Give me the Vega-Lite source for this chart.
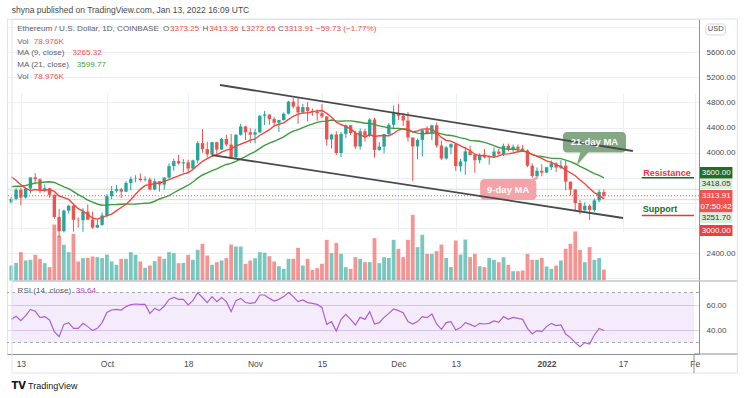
{
"$schema": "https://vega.github.io/schema/vega-lite/v6.json",
"width": 692, "height": 335,
"autosize": {"type": "none"},
"padding": {"left": 7, "top": 19, "right": 51, "bottom": 44},
"background": "white",
"config": {"view": {"stroke": "#e0e3eb"}, "font": "Liberation Sans", "text": {"font": "Liberation Sans"}},
"datasets": {"ohlc": [
{"d":"2021-09-11","o":3210,"h":3295,"l":3190,"c":3266,"v":108,"m9":3616,"m21":3458,"r":48.5},
{"d":"2021-09-12","o":3266,"h":3438,"l":3244,"c":3410,"v":127,"m9":3557,"m21":3466,"r":51},
{"d":"2021-09-13","o":3410,"h":3445,"l":3162,"c":3286,"v":204,"m9":3490,"m21":3465,"r":47.5},
{"d":"2021-09-14","o":3286,"h":3445,"l":3268,"c":3429,"v":144,"m9":3432,"m21":3477,"r":51.5},
{"d":"2021-09-15","o":3429,"h":3610,"l":3352,"c":3607,"v":149,"m9":3397,"m21":3495,"r":56.5},
{"d":"2021-09-16","o":3607,"h":3676,"l":3515,"c":3577,"v":185,"m9":3413,"m21":3518,"r":55},
{"d":"2021-09-17","o":3577,"h":3590,"l":3357,"c":3398,"v":156,"m9":3401,"m21":3524,"r":50},
{"d":"2021-09-18","o":3398,"h":3495,"l":3370,"c":3433,"v":125,"m9":3402,"m21":3533,"r":50.7},
{"d":"2021-09-19","o":3433,"h":3443,"l":3286,"c":3330,"v":96,"m9":3415,"m21":3538,"r":48},
{"d":"2021-09-20","o":3330,"h":3335,"l":2945,"c":2977,"v":403,"m9":3383,"m21":3526,"r":38.7},
{"d":"2021-09-21","o":2977,"h":3105,"l":2651,"c":2749,"v":324,"m9":3310,"m21":3493,"r":34.7},
{"d":"2021-09-22","o":2749,"h":3095,"l":2730,"c":3077,"v":257,"m9":3286,"m21":3457,"r":44.5},
{"d":"2021-09-23","o":3077,"h":3170,"l":3030,"c":3156,"v":204,"m9":3256,"m21":3427,"r":45.9},
{"d":"2021-09-24","o":3156,"h":3172,"l":2745,"c":2931,"v":336,"m9":3181,"m21":3379,"r":41.3},
{"d":"2021-09-25","o":2931,"h":2972,"l":2805,"c":2925,"v":137,"m9":3108,"m21":3333,"r":41.3},
{"d":"2021-09-26","o":2925,"h":3115,"l":2742,"c":3062,"v":161,"m9":3071,"m21":3291,"r":45.3},
{"d":"2021-09-27","o":3062,"h":3175,"l":2925,"c":2934,"v":163,"m9":3016,"m21":3244,"r":42.7},
{"d":"2021-09-28","o":2934,"h":3062,"l":2789,"c":2807,"v":173,"m9":2958,"m21":3214,"r":39.5},
{"d":"2021-09-29","o":2807,"h":2935,"l":2800,"c":2850,"v":168,"m9":2943,"m21":3183,"r":41.3},
{"d":"2021-09-30","o":2850,"h":3050,"l":2836,"c":3001,"v":161,"m9":2971,"m21":3163,"r":45.9},
{"d":"2021-10-01","o":3001,"h":3340,"l":2970,"c":3308,"v":187,"m9":2997,"m21":3167,"r":54},
{"d":"2021-10-02","o":3308,"h":3470,"l":3262,"c":3391,"v":137,"m9":3023,"m21":3173,"r":56},
{"d":"2021-10-03","o":3391,"h":3487,"l":3366,"c":3418,"v":113,"m9":3077,"m21":3174,"r":56.5},
{"d":"2021-10-04","o":3418,"h":3440,"l":3280,"c":3380,"v":156,"m9":3128,"m21":3178,"r":56},
{"d":"2021-10-05","o":3380,"h":3545,"l":3375,"c":3518,"v":156,"m9":3179,"m21":3182,"r":58.7},
{"d":"2021-10-06","o":3518,"h":3620,"l":3400,"c":3580,"v":204,"m9":3250,"m21":3181,"r":60.3},
{"d":"2021-10-07","o":3580,"h":3640,"l":3530,"c":3587,"v":185,"m9":3337,"m21":3182,"r":60.8},
{"d":"2021-10-08","o":3587,"h":3672,"l":3540,"c":3563,"v":137,"m9":3416,"m21":3189,"r":60.5},
{"d":"2021-10-09","o":3563,"h":3623,"l":3542,"c":3575,"v":91,"m9":3480,"m21":3196,"r":60.5},
{"d":"2021-10-10","o":3575,"h":3605,"l":3400,"c":3415,"v":108,"m9":3492,"m21":3200,"r":53.3},
{"d":"2021-10-11","o":3415,"h":3590,"l":3400,"c":3545,"v":139,"m9":3509,"m21":3227,"r":57.3},
{"d":"2021-10-12","o":3545,"h":3548,"l":3380,"c":3492,"v":173,"m9":3517,"m21":3263,"r":55.5},
{"d":"2021-10-13","o":3492,"h":3612,"l":3410,"c":3604,"v":156,"m9":3542,"m21":3288,"r":59.2},
{"d":"2021-10-14","o":3604,"h":3830,"l":3586,"c":3787,"v":204,"m9":3572,"m21":3318,"r":64.5},
{"d":"2021-10-15","o":3787,"h":3904,"l":3712,"c":3865,"v":197,"m9":3604,"m21":3362,"r":66},
{"d":"2021-10-16","o":3865,"h":3965,"l":3810,"c":3830,"v":125,"m9":3631,"m21":3405,"r":64.5},
{"d":"2021-10-17","o":3830,"h":3898,"l":3685,"c":3847,"v":127,"m9":3662,"m21":3443,"r":64.5},
{"d":"2021-10-18","o":3847,"h":3890,"l":3685,"c":3748,"v":185,"m9":3681,"m21":3482,"r":60},
{"d":"2021-10-19","o":3748,"h":3890,"l":3732,"c":3878,"v":149,"m9":3733,"m21":3533,"r":63.5},
{"d":"2021-10-20","o":3878,"h":4185,"l":3832,"c":4153,"v":221,"m9":3800,"m21":3595,"r":69.9},
{"d":"2021-10-21","o":4153,"h":4378,"l":4000,"c":4058,"v":264,"m9":3863,"m21":3645,"r":66},
{"d":"2021-10-22","o":4058,"h":4172,"l":3923,"c":3973,"v":180,"m9":3904,"m21":3677,"r":61.9},
{"d":"2021-10-23","o":3973,"h":4175,"l":3945,"c":4167,"v":113,"m9":3947,"m21":3714,"r":66.7},
{"d":"2021-10-24","o":4167,"h":4172,"l":3948,"c":4050,"v":132,"m9":3967,"m21":3744,"r":62.7},
{"d":"2021-10-25","o":4050,"h":4238,"l":4040,"c":4219,"v":144,"m9":4010,"m21":3784,"r":66},
{"d":"2021-10-26","o":4219,"h":4285,"l":4100,"c":4130,"v":161,"m9":4042,"m21":3813,"r":62.7},
{"d":"2021-10-27","o":4130,"h":4300,"l":3900,"c":3930,"v":259,"m9":4062,"m21":3829,"r":54.7},
{"d":"2021-10-28","o":3930,"h":4295,"l":3915,"c":4285,"v":245,"m9":4107,"m21":3863,"r":63.5},
{"d":"2021-10-29","o":4285,"h":4460,"l":4270,"c":4417,"v":245,"m9":4137,"m21":3903,"r":65.3},
{"d":"2021-10-30","o":4417,"h":4426,"l":4200,"c":4325,"v":120,"m9":4166,"m21":3939,"r":62},
{"d":"2021-10-31","o":4325,"h":4390,"l":4150,"c":4288,"v":144,"m9":4201,"m21":3981,"r":61.3},
{"d":"2021-11-01","o":4288,"h":4380,"l":4150,"c":4323,"v":161,"m9":4219,"m21":4018,"r":61.9},
{"d":"2021-11-02","o":4323,"h":4600,"l":4320,"c":4587,"v":204,"m9":4278,"m21":4070,"r":68},
{"d":"2021-11-03","o":4587,"h":4665,"l":4440,"c":4607,"v":199,"m9":4321,"m21":4118,"r":68},
{"d":"2021-11-04","o":4607,"h":4610,"l":4445,"c":4536,"v":175,"m9":4366,"m21":4153,"r":65.3},
{"d":"2021-11-05","o":4536,"h":4570,"l":4435,"c":4477,"v":137,"m9":4427,"m21":4182,"r":63.2},
{"d":"2021-11-06","o":4477,"h":4525,"l":4330,"c":4519,"v":103,"m9":4453,"m21":4215,"r":64.5},
{"d":"2021-11-07","o":4519,"h":4640,"l":4515,"c":4621,"v":84,"m9":4476,"m21":4252,"r":66.7},
{"d":"2021-11-08","o":4621,"h":4825,"l":4610,"c":4813,"v":156,"m9":4530,"m21":4303,"r":69.9},
{"d":"2021-11-09","o":4813,"h":4868,"l":4705,"c":4735,"v":156,"m9":4580,"m21":4344,"r":66.7},
{"d":"2021-11-10","o":4735,"h":4870,"l":4460,"c":4641,"v":235,"m9":4615,"m21":4367,"r":62.7},
{"d":"2021-11-11","o":4641,"h":4780,"l":4620,"c":4725,"v":108,"m9":4630,"m21":4399,"r":64},
{"d":"2021-11-12","o":4725,"h":4810,"l":4500,"c":4667,"v":156,"m9":4637,"m21":4432,"r":61.9},
{"d":"2021-11-13","o":4667,"h":4705,"l":4585,"c":4649,"v":77,"m9":4650,"m21":4455,"r":61.3},
{"d":"2021-11-14","o":4649,"h":4690,"l":4510,"c":4628,"v":89,"m9":4666,"m21":4482,"r":60.5},
{"d":"2021-11-15","o":4628,"h":4772,"l":4550,"c":4577,"v":120,"m9":4673,"m21":4499,"r":58.1},
{"d":"2021-11-16","o":4577,"h":4582,"l":4110,"c":4210,"v":293,"m9":4627,"m21":4503,"r":44.5},
{"d":"2021-11-17","o":4210,"h":4300,"l":4065,"c":4289,"v":197,"m9":4569,"m21":4520,"r":46.7},
{"d":"2021-11-18","o":4289,"h":4343,"l":3965,"c":3995,"v":271,"m9":4487,"m21":4506,"r":39.2},
{"d":"2021-11-19","o":3995,"h":4330,"l":3930,"c":4300,"v":192,"m9":4449,"m21":4501,"r":48.5},
{"d":"2021-11-20","o":4300,"h":4450,"l":4230,"c":4438,"v":96,"m9":4417,"m21":4506,"r":52.5},
{"d":"2021-11-21","o":4438,"h":4440,"l":4280,"c":4313,"v":84,"m9":4378,"m21":4507,"r":48.5},
{"d":"2021-11-22","o":4313,"h":4350,"l":4060,"c":4098,"v":168,"m9":4316,"m21":4496,"r":44},
{"d":"2021-11-23","o":4098,"h":4385,"l":4050,"c":4341,"v":156,"m9":4285,"m21":4485,"r":50.1},
{"d":"2021-11-24","o":4341,"h":4380,"l":4175,"c":4271,"v":132,"m9":4251,"m21":4469,"r":48.5},
{"d":"2021-11-25","o":4271,"h":4550,"l":4250,"c":4528,"v":132,"m9":4286,"m21":4468,"r":54.7},
{"d":"2021-11-26","o":4528,"h":4555,"l":3920,"c":4044,"v":305,"m9":4259,"m21":4448,"r":44.8},
{"d":"2021-11-27","o":4044,"h":4170,"l":4030,"c":4097,"v":125,"m9":4270,"m21":4428,"r":45.9},
{"d":"2021-11-28","o":4097,"h":4300,"l":3990,"c":4298,"v":168,"m9":4270,"m21":4412,"r":50.1},
{"d":"2021-11-29","o":4298,"h":4470,"l":4285,"c":4445,"v":163,"m9":4271,"m21":4395,"r":53.3},
{"d":"2021-11-30","o":4445,"h":4750,"l":4385,"c":4635,"v":293,"m9":4306,"m21":4390,"r":56.8},
{"d":"2021-12-01","o":4635,"h":4780,"l":4520,"c":4588,"v":228,"m9":4361,"m21":4387,"r":55.5},
{"d":"2021-12-02","o":4588,"h":4635,"l":4425,"c":4512,"v":168,"m9":4380,"m21":4377,"r":53.9},
{"d":"2021-12-03","o":4512,"h":4650,"l":4180,"c":4241,"v":293,"m9":4376,"m21":4357,"r":46.7},
{"d":"2021-12-04","o":4241,"h":4245,"l":3550,"c":4100,"v":473,"m9":4329,"m21":4331,"r":44.8},
{"d":"2021-12-05","o":4100,"h":4225,"l":3895,"c":4204,"v":240,"m9":4347,"m21":4311,"r":46.7},
{"d":"2021-12-06","o":4204,"h":4360,"l":3940,"c":4358,"v":329,"m9":4376,"m21":4300,"r":50.7},
{"d":"2021-12-07","o":4358,"h":4422,"l":4300,"c":4313,"v":192,"m9":4377,"m21":4305,"r":49.9},
{"d":"2021-12-08","o":4313,"h":4445,"l":4200,"c":4437,"v":192,"m9":4376,"m21":4312,"r":52.8},
{"d":"2021-12-09","o":4437,"h":4478,"l":4080,"c":4114,"v":211,"m9":4319,"m21":4318,"r":44.8},
{"d":"2021-12-10","o":4114,"h":4190,"l":3885,"c":3907,"v":259,"m9":4243,"m21":4299,"r":40.5},
{"d":"2021-12-11","o":3907,"h":4105,"l":3890,"c":4084,"v":162,"m9":4195,"m21":4282,"r":45.9},
{"d":"2021-12-12","o":4084,"h":4150,"l":3975,"c":4136,"v":97,"m9":4184,"m21":4274,"r":46.7},
{"d":"2021-12-13","o":4136,"h":4140,"l":3710,"c":3785,"v":288,"m9":4149,"m21":4259,"r":40},
{"d":"2021-12-14","o":3785,"h":3905,"l":3700,"c":3860,"v":187,"m9":4110,"m21":4236,"r":41.9},
{"d":"2021-12-15","o":3860,"h":4095,"l":3650,"c":4022,"v":295,"m9":4073,"m21":4224,"r":45.9},
{"d":"2021-12-16","o":4022,"h":4110,"l":3955,"c":3963,"v":168,"m9":4034,"m21":4197,"r":44.5},
{"d":"2021-12-17","o":3963,"h":3985,"l":3680,"c":3880,"v":192,"m9":3972,"m21":4190,"r":42.7},
{"d":"2021-12-18","o":3880,"h":3990,"l":3830,"c":3962,"v":103,"m9":3955,"m21":4183,"r":45.3},
{"d":"2021-12-19","o":3962,"h":4060,"l":3910,"c":3925,"v":96,"m9":3957,"m21":4165,"r":44.8},
{"d":"2021-12-20","o":3925,"h":3960,"l":3810,"c":3942,"v":163,"m9":3942,"m21":4141,"r":45.3},
{"d":"2021-12-21","o":3942,"h":4085,"l":3920,"c":4019,"v":149,"m9":3929,"m21":4112,"r":47.2},
{"d":"2021-12-22","o":4019,"h":4060,"l":3955,"c":3981,"v":132,"m9":3950,"m21":4083,"r":46.1},
{"d":"2021-12-23","o":3981,"h":4145,"l":3945,"c":4110,"v":168,"m9":3978,"m21":4064,"r":50.7},
{"d":"2021-12-24","o":4110,"h":4145,"l":4020,"c":4048,"v":113,"m9":3981,"m21":4055,"r":48.5},
{"d":"2021-12-25","o":4048,"h":4128,"l":4010,"c":4096,"v":67,"m9":3996,"m21":4055,"r":50.1},
{"d":"2021-12-26","o":4096,"h":4130,"l":4000,"c":4064,"v":67,"m9":4016,"m21":4048,"r":49.3},
{"d":"2021-12-27","o":4064,"h":4125,"l":4030,"c":4037,"v":72,"m9":4025,"m21":4033,"r":48.5},
{"d":"2021-12-28","o":4037,"h":4050,"l":3770,"c":3793,"v":192,"m9":4010,"m21":4008,"r":41.3},
{"d":"2021-12-29","o":3793,"h":3830,"l":3600,"c":3627,"v":149,"m9":3975,"m21":3969,"r":36.8},
{"d":"2021-12-30","o":3627,"h":3765,"l":3590,"c":3712,"v":149,"m9":3941,"m21":3950,"r":39.5},
{"d":"2021-12-31","o":3712,"h":3815,"l":3625,"c":3683,"v":163,"m9":3908,"m21":3940,"r":38.7},
{"d":"2022-01-01","o":3683,"h":3770,"l":3680,"c":3769,"v":101,"m9":3870,"m21":3925,"r":42.7},
{"d":"2022-01-02","o":3769,"h":3875,"l":3725,"c":3829,"v":84,"m9":3846,"m21":3910,"r":45.3},
{"d":"2022-01-03","o":3829,"h":3850,"l":3695,"c":3762,"v":108,"m9":3808,"m21":3909,"r":43.5},
{"d":"2022-01-04","o":3762,"h":3880,"l":3735,"c":3794,"v":144,"m9":3778,"m21":3906,"r":44},
{"d":"2022-01-05","o":3794,"h":3870,"l":3400,"c":3539,"v":228,"m9":3723,"m21":3883,"r":36.8},
{"d":"2022-01-06","o":3539,"h":3540,"l":3320,"c":3414,"v":264,"m9":3681,"m21":3857,"r":33.9},
{"d":"2022-01-07","o":3414,"h":3415,"l":3065,"c":3199,"v":353,"m9":3633,"m21":3824,"r":29.9},
{"d":"2022-01-08","o":3199,"h":3245,"l":3020,"c":3083,"v":221,"m9":3564,"m21":3782,"r":26.7},
{"d":"2022-01-09","o":3083,"h":3210,"l":3075,"c":3155,"v":132,"m9":3505,"m21":3746,"r":29.9},
{"d":"2022-01-10","o":3155,"h":3175,"l":2930,"c":3087,"v":240,"m9":3429,"m21":3705,"r":28.8},
{"d":"2022-01-11","o":3087,"h":3270,"l":3060,"c":3240,"v":149,"m9":3364,"m21":3668,"r":36},
{"d":"2022-01-12","o":3240,"h":3410,"l":3210,"c":3373,"v":161,"m9":3320,"m21":3639,"r":41.3},
{"d":"2022-01-13","o":3373.25,"h":3413.36,"l":3272.65,"c":3313.91,"v":79,"m9":3265.32,"m21":3599.77,"r":39.64}
]},
"layer": [
{
 "data": {"name": "ohlc"},
 "mark": {"type": "bar", "width": 3.8, "opacity": 0.62, "clip": true},
 "encoding": {
  "x": {"field": "d", "type": "temporal",
   "scale": {"type": "utc", "domain": [1631330838900, 1643660825700]},
   "axis": {"title": null, "values": [1631491200000, 1633046400000, 1634515200000, 1635724800000, 1636934400000, 1638316800000, 1639353600000, 1640995200000, 1642377600000, 1643673600000],
    "labelExpr": "utcdate(datum.value) == 1 ? (utcmonth(datum.value) == 0 ? '2022' : (utcmonth(datum.value) == 1 ? 'Fe' : utcFormat(datum.value, '%b'))) : utcFormat(datum.value, '%-d')",
    "labelFontWeight": {"condition": {"test": "utcdate(datum.value) == 1 && utcmonth(datum.value) == 0", "value": "bold"}, "value": "normal"},
    "labelOverlap": false, "tickCount": 30,
    "grid": true, "gridColor": "#eceff5", "ticks": false, "tickSize": 0, "domainColor": "#8d9099",
    "labelColor": "#4a4a4a", "labelFontSize": 8.5, "labelPadding": 5, "labelFont": "Liberation Sans"}},
  "y": {"field": "v", "type": "quantitative", "scale": {"domain": [0, 1000], "range": [261.5, 122.6], "nice": false}, "axis": null},
  "color": {"condition": {"test": "datum.c >= datum.o", "value": "#26a69a"}, "value": "#ef5350"}
 }
},
{
 "layer": [
  {"data": {"values": [{}]}, "mark": {"type": "rule", "color": "#c8e6c9", "strokeWidth": 1}, "encoding": {"y": {"datum": 3418.05}}},
  {"data": {"values": [{}]}, "mark": {"type": "rule", "color": "#c8e6c9", "strokeWidth": 1}, "encoding": {"y": {"datum": 3251.70}}},
  {"data": {"values": [{}]}, "mark": {"type": "rule", "color": "#ef5350", "strokeWidth": 1, "strokeDash": [1, 2]}, "encoding": {"y": {"datum": 3313.91}}},
  {
   "data": {"name": "ohlc"},
   "mark": {"type": "rule", "strokeWidth": 1, "clip": true},
   "encoding": {
    "x": {"field": "d", "type": "temporal"},
    "y": {"field": "l", "type": "quantitative",
     "scale": {"domain": [1957, 6129], "range": [262, 0], "nice": false, "zero": false},
     "axis": {"orient": "right", "title": null, "values": [2000, 2400, 2800, 3200, 3600, 4000, 4400, 4800, 5200, 5600, 6000],
      "labelExpr": "datum.value == 2000 || datum.value == 2800 || datum.value == 3200 || datum.value == 3600 || datum.value == 6000 ? '' : format(datum.value, '.2f')",
      "labelOverlap": false, "tickCount": 40,
      "grid": true, "gridColor": "#eceff5", "ticks": false, "tickSize": 0, "domainColor": "#8d9099",
      "labelColor": "#4a4a4a", "labelFontSize": 8, "labelPadding": 7, "labelFont": "Liberation Sans"}},
    "y2": {"field": "h"},
    "color": {"condition": {"test": "datum.c >= datum.o", "value": "#26a69a"}, "value": "#ef5350"}
   }
  },
  {
   "data": {"name": "ohlc"},
   "mark": {"type": "bar", "width": 3.4, "clip": true},
   "encoding": {
    "x": {"field": "d", "type": "temporal"},
    "y": {"field": "o", "type": "quantitative"},
    "y2": {"field": "c"},
    "color": {"condition": {"test": "datum.c >= datum.o", "value": "#26a69a"}, "value": "#ef5350"}
   }
  },
  {"data": {"name": "ohlc"}, "mark": {"type": "line", "color": "#3f9b42", "strokeWidth": 1.4, "clip": true},
   "encoding": {"x": {"field": "d", "type": "temporal"}, "y": {"field": "m21", "type": "quantitative"}}},
  {"data": {"name": "ohlc"}, "mark": {"type": "line", "color": "#f0463c", "strokeWidth": 1.4, "clip": true},
   "encoding": {"x": {"field": "d", "type": "temporal"}, "y": {"field": "m9", "type": "quantitative"}}},
  {"data": {"values": [{}]}, "mark": {"type": "rect", "color": "#83a883", "cornerRadius": 4},
   "encoding": {"x": {"datum": 1641291045000, "type": "temporal"}, "x2": {"datum": 1642431390600}, "y": {"datum": 4330}, "y2": {"datum": 4003}}},
  {"data": {"values": [{}]}, "mark": {"type": "point", "shape": "M-0.3,-1L0.9,-1L-0.85,1Z", "filled": true, "size": 202, "color": "#83a883", "opacity": 1},
   "encoding": {"x": {"datum": 1641647403000, "type": "temporal"}, "y": {"datum": 3906}}},
  {"data": {"values": [{}]}, "mark": {"type": "rect", "color": "#f5a3a8", "cornerRadius": 4},
   "encoding": {"x": {"datum": 1639794341400, "type": "temporal"}, "x2": {"datum": 1640809961700}, "y": {"datum": 3581}, "y2": {"datum": 3247}}},
  {"data": {"values": [{}]}, "mark": {"type": "point", "shape": "M-1,0.6L0.2,0.6L0.8,-0.4Z", "filled": true, "size": 100, "color": "#f5a3a8", "opacity": 1},
   "encoding": {"x": {"datum": 1640792143800, "type": "temporal"}, "y": {"datum": 3613}}},
  {"data": {"values": [{}]}, "mark": {"type": "rule", "color": "#4a4a4a", "strokeWidth": 1.8},
   "encoding": {"x": {"datum": 1635090415800, "type": "temporal"}, "x2": {"datum": 1642556115900}, "y": {"datum": 5078}, "y2": {"datum": 4027}}},
  {"data": {"values": [{}]}, "mark": {"type": "rule", "color": "#4a4a4a", "strokeWidth": 1.8},
   "encoding": {"x": {"datum": 1634947872600, "type": "temporal"}, "x2": {"datum": 1642377936900}, "y": {"datum": 3963}, "y2": {"datum": 2960}}},
  {"data": {"values": [{}]}, "mark": {"type": "text", "align": "center", "baseline": "middle", "fontSize": 9.5, "fontWeight": "bold", "color": "white"},
   "encoding": {"x": {"datum": 1641861217800, "type": "temporal"}, "y": {"datum": 4166}, "text": {"value": "21-day MA"}}},
  {"data": {"values": [{}]}, "mark": {"type": "text", "align": "center", "baseline": "middle", "fontSize": 9.5, "fontWeight": "bold", "color": "white"},
   "encoding": {"x": {"datum": 1640302151550, "type": "temporal"}, "y": {"datum": 3414}, "text": {"value": "9-day MA"}}},
  {"data": {"values": [{}]}, "mark": {"type": "rule", "color": "#1e6b22", "strokeWidth": 1.5},
   "encoding": {"x": {"datum": 1642716477000, "type": "temporal"}, "x2": {"datum": 1643660825700}, "y": {"datum": 3600}}},
  {"data": {"values": [{}]}, "mark": {"type": "rule", "color": "#e53935", "strokeWidth": 1.5},
   "encoding": {"x": {"datum": 1642716477000, "type": "temporal"}, "x2": {"datum": 1643660825700}, "y": {"datum": 3000}}},
  {"data": {"values": [{}]}, "mark": {"type": "text", "align": "left", "baseline": "middle", "fontSize": 9, "fontWeight": "bold", "color": "#e53945"},
   "encoding": {"x": {"datum": 1642743203850, "type": "temporal"}, "y": {"datum": 3682}, "text": {"value": "Resistance"}}},
  {"data": {"values": [{}]}, "mark": {"type": "text", "align": "left", "baseline": "middle", "fontSize": 9, "fontWeight": "bold", "color": "#1e6b22"},
   "encoding": {"x": {"datum": 1642734294900, "type": "temporal"}, "y": {"datum": 3104}, "text": {"value": "Support"}}},
  {"data": {"values": [{}]}, "mark": {"type": "text", "align": "left", "baseline": "middle", "fontSize": 8.5, "color": "#4a4a4a"},
   "encoding": {"x": {"datum": 1631325493530, "type": "temporal"}, "y": {"datum": 6272}, "text": {"value": "shyna published on TradingView.com, Jan 13, 2022 16:09 UTC"}}},
  {"data": {"values": [{}]}, "mark": {"type": "text", "align": "left", "baseline": "middle", "fontSize": 8.1, "color": "#5d606b"},
   "encoding": {"x": {"datum": 1631425273770, "type": "temporal"}, "y": {"datum": 5965}, "text": {"value": "Ethereum / U.S. Dollar, 1D, COINBASE"}}},
  {"data": {"values": [{}]}, "mark": {"type": "text", "align": "left", "baseline": "middle", "fontSize": 8.1, "color": "#5d606b"},
   "encoding": {"x": {"datum": 1634062323000, "type": "temporal"}, "y": {"datum": 5965}, "text": {"value": "O"}}},
  {"data": {"values": [{}]}, "mark": {"type": "text", "align": "left", "baseline": "middle", "fontSize": 8.1, "color": "#ef5350"},
   "encoding": {"x": {"datum": 1634185266480, "type": "temporal"}, "y": {"datum": 5965}, "text": {"value": "3373.25"}}},
  {"data": {"values": [{}]}, "mark": {"type": "text", "align": "left", "baseline": "middle", "fontSize": 8.1, "color": "#5d606b"},
   "encoding": {"x": {"datum": 1634773257180, "type": "temporal"}, "y": {"datum": 5965}, "text": {"value": "H"}}},
  {"data": {"values": [{}]}, "mark": {"type": "text", "align": "left", "baseline": "middle", "fontSize": 8.1, "color": "#ef5350"},
   "encoding": {"x": {"datum": 1634897982480, "type": "temporal"}, "y": {"datum": 5965}, "text": {"value": "3413.36"}}},
  {"data": {"values": [{}]}, "mark": {"type": "text", "align": "left", "baseline": "middle", "fontSize": 8.1, "color": "#5d606b"},
   "encoding": {"x": {"datum": 1635485973180, "type": "temporal"}, "y": {"datum": 5965}, "text": {"value": "L"}}},
  {"data": {"values": [{}]}, "mark": {"type": "text", "align": "left", "baseline": "middle", "fontSize": 8.1, "color": "#ef5350"},
   "encoding": {"x": {"datum": 1635567935520, "type": "temporal"}, "y": {"datum": 5965}, "text": {"value": "3272.65"}}},
  {"data": {"values": [{}]}, "mark": {"type": "text", "align": "left", "baseline": "middle", "fontSize": 8.1, "color": "#5d606b"},
   "encoding": {"x": {"datum": 1636138108320, "type": "temporal"}, "y": {"datum": 5965}, "text": {"value": "C"}}},
  {"data": {"values": [{}]}, "mark": {"type": "text", "align": "left", "baseline": "middle", "fontSize": 8.1, "color": "#ef5350"},
   "encoding": {"x": {"datum": 1636252142880, "type": "temporal"}, "y": {"datum": 5965}, "text": {"value": "3313.91"}}},
  {"data": {"values": [{}]}, "mark": {"type": "text", "align": "left", "baseline": "middle", "fontSize": 8.1, "color": "#ef5350"},
   "encoding": {"x": {"datum": 1636827661050, "type": "temporal"}, "y": {"datum": 5965}, "text": {"value": "−59.73 (−1.77%)"}}},
  {"data": {"values": [{}]}, "mark": {"type": "text", "align": "left", "baseline": "middle", "fontSize": 8.1, "color": "#5d606b"},
   "encoding": {"x": {"datum": 1631425273770, "type": "temporal"}, "y": {"datum": 5767}, "text": {"value": "Vol"}}},
  {"data": {"values": [{}]}, "mark": {"type": "text", "align": "left", "baseline": "middle", "fontSize": 8.1, "color": "#ef5350"},
   "encoding": {"x": {"datum": 1631722832700, "type": "temporal"}, "y": {"datum": 5767}, "text": {"value": "78.976K"}}},
  {"data": {"values": [{}]}, "mark": {"type": "text", "align": "left", "baseline": "middle", "fontSize": 8.1, "color": "#5d606b"},
   "encoding": {"x": {"datum": 1631425273770, "type": "temporal"}, "y": {"datum": 5583}, "text": {"value": "MA (9, close)"}}},
  {"data": {"values": [{}]}, "mark": {"type": "text", "align": "left", "baseline": "middle", "fontSize": 8.1, "color": "#ef5350"},
   "encoding": {"x": {"datum": 1632423076170, "type": "temporal"}, "y": {"datum": 5583}, "text": {"value": "3265.32"}}},
  {"data": {"values": [{}]}, "mark": {"type": "text", "align": "left", "baseline": "middle", "fontSize": 8.1, "color": "#5d606b"},
   "encoding": {"x": {"datum": 1631425273770, "type": "temporal"}, "y": {"datum": 5396}, "text": {"value": "MA (21, close)"}}},
  {"data": {"values": [{}]}, "mark": {"type": "text", "align": "left", "baseline": "middle", "fontSize": 8.1, "color": "#43a047"},
   "encoding": {"x": {"datum": 1632501474930, "type": "temporal"}, "y": {"datum": 5396}, "text": {"value": "3599.77"}}},
  {"data": {"values": [{}]}, "mark": {"type": "text", "align": "left", "baseline": "middle", "fontSize": 8.1, "color": "#5d606b"},
   "encoding": {"x": {"datum": 1631425273770, "type": "temporal"}, "y": {"datum": 5210}, "text": {"value": "Vol"}}},
  {"data": {"values": [{}]}, "mark": {"type": "text", "align": "left", "baseline": "middle", "fontSize": 8.1, "color": "#ef5350"},
   "encoding": {"x": {"datum": 1631722832700, "type": "temporal"}, "y": {"datum": 5210}, "text": {"value": "78.976K"}}},
  {"data": {"values": [{}]}, "mark": {"type": "rect", "color": "#236b26"},
   "encoding": {"x": {"datum": 1643767733100, "type": "temporal"}, "x2": {"datum": 1644355723800}, "y": {"datum": 3772}, "y2": {"datum": 3589}}},
  {"data": {"values": [{}]}, "mark": {"type": "text", "align": "center", "baseline": "middle", "fontSize": 8, "color": "white"},
   "encoding": {"x": {"datum": 1644061728450, "type": "temporal"}, "y": {"datum": 3682}, "text": {"value": "3600.00"}}},
  {"data": {"values": [{}]}, "mark": {"type": "rect", "color": "#dcefdc"},
   "encoding": {"x": {"datum": 1643767733100, "type": "temporal"}, "x2": {"datum": 1644355723800}, "y": {"datum": 3581}, "y2": {"datum": 3422}}},
  {"data": {"values": [{}]}, "mark": {"type": "text", "align": "center", "baseline": "middle", "fontSize": 8, "color": "#333333"},
   "encoding": {"x": {"datum": 1644061728450, "type": "temporal"}, "y": {"datum": 3502}, "text": {"value": "3418.05"}}},
  {"data": {"values": [{}]}, "mark": {"type": "rect", "color": "#ef5350"},
   "encoding": {"x": {"datum": 1643767733100, "type": "temporal"}, "x2": {"datum": 1644355723800}, "y": {"datum": 3406}, "y2": {"datum": 3051}}},
  {"data": {"values": [{}]}, "mark": {"type": "text", "align": "center", "baseline": "middle", "fontSize": 8, "color": "white"},
   "encoding": {"x": {"datum": 1644061728450, "type": "temporal"}, "y": {"datum": 3311}, "text": {"value": "3313.91"}}},
  {"data": {"values": [{}]}, "mark": {"type": "text", "align": "center", "baseline": "middle", "fontSize": 8, "color": "white"},
   "encoding": {"x": {"datum": 1644061728450, "type": "temporal"}, "y": {"datum": 3143}, "text": {"value": "07:50:42"}}},
  {"data": {"values": [{}]}, "mark": {"type": "rect", "color": "#dcefdc"},
   "encoding": {"x": {"datum": 1643767733100, "type": "temporal"}, "x2": {"datum": 1644355723800}, "y": {"datum": 3040}, "y2": {"datum": 2881}}},
  {"data": {"values": [{}]}, "mark": {"type": "text", "align": "center", "baseline": "middle", "fontSize": 8, "color": "#333333"},
   "encoding": {"x": {"datum": 1644061728450, "type": "temporal"}, "y": {"datum": 2960}, "text": {"value": "3251.70"}}},
  {"data": {"values": [{}]}, "mark": {"type": "rect", "color": "#ef3e3e"},
   "encoding": {"x": {"datum": 1643767733100, "type": "temporal"}, "x2": {"datum": 1644355723800}, "y": {"datum": 2849}, "y2": {"datum": 2674}}},
  {"data": {"values": [{}]}, "mark": {"type": "text", "align": "center", "baseline": "middle", "fontSize": 8, "color": "white"},
   "encoding": {"x": {"datum": 1644061728450, "type": "temporal"}, "y": {"datum": 2761}, "text": {"value": "3000.00"}}},
  {"data": {"values": [{}]}, "mark": {"type": "rect", "fill": "white", "stroke": "#d1d4dc", "strokeWidth": 1, "cornerRadius": 3},
   "encoding": {"x": {"datum": 1643874640500, "type": "temporal"}, "x2": {"datum": 1644230998500}, "y": {"datum": 6049}, "y2": {"datum": 5874}}},
  {"data": {"values": [{}]}, "mark": {"type": "text", "align": "center", "baseline": "middle", "fontSize": 7.5, "color": "#4a4a4a"},
   "encoding": {"x": {"datum": 1644052819500, "type": "temporal"}, "y": {"datum": 5962}, "text": {"value": "USD"}}},
  {"data": {"values": [{}]}, "mark": {"type": "rule", "color": "#c3c6cc", "strokeWidth": 1.5},
   "encoding": {"x": {"datum": 1631330838900, "type": "temporal"}, "x2": {"datum": 1644444813300}, "y": {"datum": 1957}}}
 ]
},
{
 "layer": [
  {"data": {"values": [{}]}, "mark": {"type": "rect", "color": "#9c4fd6", "opacity": 0.11},
   "encoding": {"x": {"datum": 1631330838900, "type": "temporal"}, "x2": {"datum": 1643660825700}, "y": {"datum": 70}, "y2": {"datum": 30}}},
  {"data": {"values": [{}]}, "mark": {"type": "rule", "color": "#a6a6ae", "strokeWidth": 1, "strokeDash": [3, 3]}, "encoding": {"y": {"datum": 70}}},
  {"data": {"values": [{}]}, "mark": {"type": "rule", "color": "#a6a6ae", "strokeWidth": 1, "strokeDash": [3, 3]}, "encoding": {"y": {"datum": 30}}},
  {
   "data": {"name": "ohlc"},
   "mark": {"type": "line", "color": "#ad5fd3", "strokeWidth": 1.2, "clip": true},
   "encoding": {
    "x": {"field": "d", "type": "temporal"},
    "y": {"field": "r", "type": "quantitative",
     "scale": {"domain": [20.8, 79.2], "range": [335, 262], "nice": false, "zero": false},
     "axis": {"orient": "right", "title": null, "values": [40, 60], "format": ".2f", "labelOverlap": false, "tickCount": 10,
      "grid": true, "gridColor": "#ded3ee", "ticks": false, "tickSize": 0, "domainColor": "#8d9099",
      "labelColor": "#4a4a4a", "labelFontSize": 8, "labelPadding": 7, "labelFont": "Liberation Sans"}}
   }
  },
  {"data": {"values": [{}]}, "mark": {"type": "text", "align": "left", "baseline": "middle", "fontSize": 8.1, "color": "#5d606b"},
   "encoding": {"x": {"datum": 1631432400930, "type": "temporal"}, "y": {"datum": 71.4}, "text": {"value": "RSI (14, close)"}}},
  {"data": {"values": [{}]}, "mark": {"type": "text", "align": "left", "baseline": "middle", "fontSize": 8.1, "color": "#ab47bc"},
   "encoding": {"x": {"datum": 1632483657030, "type": "temporal"}, "y": {"datum": 71.4}, "text": {"value": "39.64"}}},
  {"data": {"values": [{}]}, "mark": {"type": "rect", "fill": null, "stroke": "#e0e3eb", "strokeWidth": 1},
   "encoding": {"x": {"datum": 1631330838900, "type": "temporal"}, "x2": {"datum": 1644444813300}, "y": {"datum": 288.8}, "y2": {"datum": 5.6}}},
  {"data": {"values": [{}]}, "mark": {"type": "rule", "color": "#8d9099", "strokeWidth": 1},
   "encoding": {"x": {"datum": 1643660825700, "type": "temporal"}, "y": {"datum": 20.8}, "y2": {"datum": 5.6}}},
  {"data": {"values": [{}]}, "mark": {"type": "rule", "color": "#8d9099", "strokeWidth": 1},
   "encoding": {"x": {"datum": 1643660825700, "type": "temporal"}, "x2": {"datum": 1644444813300}, "y": {"datum": 20.8}}},
  {"data": {"values": [{}]}, "mark": {"type": "text", "align": "left", "baseline": "middle", "fontSize": 10, "fontWeight": "bold", "font": "DejaVu Sans", "color": "#131722"},
   "encoding": {"x": {"datum": 1631321929950, "type": "temporal"}, "y": {"datum": -4.8}, "text": {"value": "TV"}}},
  {"data": {"values": [{}]}, "mark": {"type": "text", "align": "left", "baseline": "middle", "fontSize": 9, "color": "#131722"},
   "encoding": {"x": {"datum": 1631621270670, "type": "temporal"}, "y": {"datum": -4.8}, "text": {"value": "TradingView"}}}
 ]
}
],
"resolve": {"scale": {"y": "independent"}}
}
